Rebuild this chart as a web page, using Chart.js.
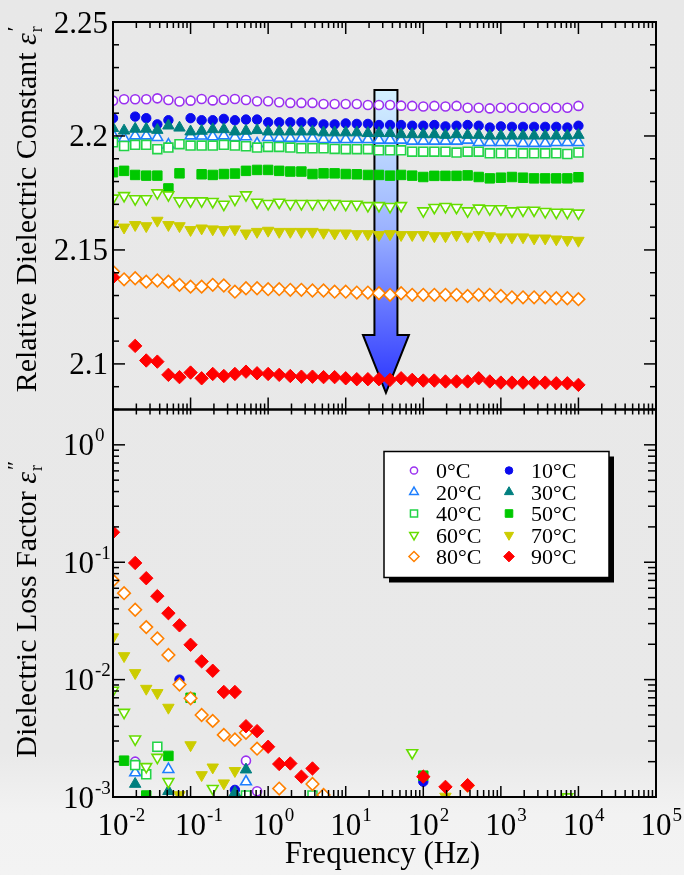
<!DOCTYPE html>
<html>
<head>
<meta charset="utf-8">
<script src="https://cdn.jsdelivr.net/npm/chart.js@4.4.1/dist/chart.umd.min.js"></script>
<style>
  html, body { margin: 0; padding: 0; }
  body {
    width: 684px;
    height: 875px;
    overflow: hidden;
    background: linear-gradient(180deg, #e8e8e8 0%, #e9e9e9 86%, #f2f2f2 93%, #f3f3f3 100%);
  }
</style>
</head>
<body>
<canvas id="dielectricChart" width="684" height="875"></canvas>
<script>
const _ = null;

// measurement frequencies (Hz), 7 points per decade
const freqs = [
  0.01, 0.01389, 0.01931, 0.02683, 0.03728, 0.05179, 0.07197,
  0.1, 0.1389, 0.1931, 0.2683, 0.3728, 0.5179, 0.7197,
  1, 1.389, 1.931, 2.683, 3.728, 5.179, 7.197,
  10, 13.89, 19.31, 26.83, 37.28, 51.79, 71.97,
  100, 138.9, 193.1, 268.3, 372.8, 517.9, 719.7,
  1000, 1389, 1931, 2683, 3728, 5179, 7197, 10000
];

const temps = ['0°C', '10°C', '20°C', '30°C', '40°C', '50°C', '60°C', '70°C', '80°C', '90°C'];

// relative dielectric constant eps_r'
const eps0 = [2.2155, 2.2161, 2.2161, 2.2161, 2.2165, 2.2158, 2.2151, 2.2155, 2.2162, 2.2156, 2.2159, 2.2162, 2.2158, 2.2152,
  2.2152, 2.2148, 2.2145, 2.2145, 2.2145, 2.2140, 2.2140, 2.2140, 2.2140, 2.2136, 2.2136, 2.2136, 2.2133, 2.2132,
  2.2129, 2.2132, 2.2129, 2.2132, 2.2124, 2.2124, 2.2121, 2.2124, 2.2124, 2.2124, 2.2124, 2.2124, 2.2124, 2.2124, 2.2132];
const eps10 = [2.2078, _, 2.2085, 2.2078, 2.2051, 2.2069, _, 2.2078, 2.2069, 2.2069, 2.2075, 2.2069, 2.2072, 2.2072,
  2.2060, 2.2060, 2.2060, 2.2060, 2.2060, 2.2051, 2.2051, 2.2055, 2.2053, 2.2053, 2.2048, 2.2048, 2.2048, 2.2045,
  2.2045, 2.2048, 2.2042, 2.2045, 2.2048, 2.2045, 2.2037, 2.2042, 2.2040, 2.2040, 2.2040, 2.2040, 2.2040, 2.2037, 2.2045];
const eps20 = [2.2004, 2.1990, 2.2001, 2.2001, 2.1994, 2.1961, _, 2.2001, 2.2000, 2.1997, 2.2001, 2.1994, 2.1997, 2.1966,
  2.1994, 2.1990, 2.1990, 2.1990, 2.1990, 2.1985, 2.1985, 2.1985, 2.1985, 2.1985, 2.1982, 2.1982, 2.1982, 2.1978,
  2.1978, 2.1978, 2.1978, 2.1978, 2.1982, 2.1972, 2.1972, 2.1972, 2.1972, 2.1968, 2.1968, 2.1968, 2.1972, 2.1972, 2.1972];
const eps30 = [2.2034, 2.2023, 2.2031, 2.2031, 2.2026, 2.2045, 2.2036, 2.2019, 2.2022, 2.2029, 2.2029, 2.2019, 2.2022, 2.2025,
  2.2019, 2.2019, 2.2019, 2.2019, 2.2019, 2.2015, 2.2015, 2.2015, 2.2015, 2.2012, 2.2012, 2.2012, 2.2007, 2.2007,
  2.2007, 2.2007, 2.2004, 2.2007, 2.2004, 2.2004, 2.2001, 2.2001, 2.2001, 2.2001, 2.2001, 2.2001, 2.2001, 2.2001, 2.2004];
const eps40 = [2.1972, 2.1956, 2.1961, 2.1961, 2.1942, 2.1949, 2.1964, 2.1958, 2.1958, 2.1958, 2.1961, 2.1958, 2.1955, 2.1949,
  2.1952, 2.1952, 2.1949, 2.1946, 2.1946, 2.1946, 2.1943, 2.1942, 2.1942, 2.1942, 2.1937, 2.1937, 2.1937, 2.1931,
  2.1931, 2.1931, 2.1931, 2.1927, 2.1931, 2.1931, 2.1924, 2.1924, 2.1924, 2.1924, 2.1924, 2.1924, 2.1924, 2.1921, 2.1927];
const eps50 = [2.1841, 2.1847, 2.1829, 2.1826, 2.1826, 2.1770, 2.1836, _, 2.1832, 2.1829, 2.1833, 2.1835, 2.1847, 2.1851,
  2.1851, 2.1847, 2.1844, 2.1844, 2.1833, 2.1836, 2.1836, 2.1833, 2.1832, 2.1829, 2.1829, 2.1826, 2.1829, 2.1826,
  2.1820, 2.1825, 2.1825, 2.1825, 2.1827, 2.1820, 2.1814, 2.1817, 2.1820, 2.1817, 2.1814, 2.1814, 2.1814, 2.1814, 2.1819];
const eps60 = [2.1727, 2.1738, 2.1724, 2.1724, 2.1750, 2.1741, 2.1715, 2.1715, 2.1715, 2.1712, 2.1700, 2.1722, 2.1741, 2.1709,
  2.1703, 2.1709, 2.1703, 2.1703, 2.1703, 2.1703, 2.1703, 2.1700, 2.1700, 2.1694, 2.1694, 2.1690, 2.1694, _,
  2.1671, 2.1686, 2.1690, 2.1686, 2.1671, 2.1683, 2.1680, 2.1680, 2.1671, 2.1674, 2.1674, 2.1668, 2.1665, 2.1665, 2.1661];
const eps70 = [2.1614, 2.1599, 2.1610, 2.1605, 2.1629, 2.1610, 2.1605, 2.1588, 2.1595, 2.1591, 2.1588, 2.1591, 2.1573, 2.1580,
  2.1585, 2.1580, 2.1580, 2.1580, 2.1580, 2.1576, 2.1573, 2.1573, 2.1570, 2.1570, 2.1566, 2.1570, 2.1566, 2.1566,
  2.1566, 2.1561, 2.1561, 2.1566, 2.1559, 2.1566, 2.1561, 2.1556, 2.1556, 2.1556, 2.1551, 2.1551, 2.1547, 2.1544, 2.1541];
const eps80 = [2.1405, 2.1371, 2.1376, 2.1361, 2.1366, 2.1361, 2.1347, 2.1339, 2.1339, 2.1347, 2.1344, 2.1317, 2.1332, 2.1332,
  2.1328, 2.1328, 2.1325, 2.1325, 2.1322, 2.1322, 2.1317, 2.1317, 2.1313, 2.1313, 2.1310, 2.1303, 2.1310, 2.1303,
  2.1303, 2.1303, 2.1303, 2.1303, 2.1298, 2.1303, 2.1303, 2.1298, 2.1292, 2.1292, 2.1292, 2.1292, 2.1288, 2.1288, 2.1284];
const eps90 = [2.1380, _, 2.1079, 2.1015, 2.1010, 2.0952, 2.0942, 2.0962, 2.0937, 2.0956, 2.0947, 2.0956, 2.0966, 2.0959,
  2.0956, 2.0952, 2.0947, 2.0944, 2.0944, 2.0942, 2.0942, 2.0937, 2.0933, 2.0933, 2.0933, 2.0930, 2.0937, 2.0930,
  2.0927, 2.0927, 2.0923, 2.0923, 2.0923, 2.0937, 2.0923, 2.0918, 2.0918, 2.0918, 2.0918, 2.0918, 2.0915, 2.0915, 2.0908];

// dielectric loss factor eps_r'' (gaps = below 1e-3, not shown)
const loss0 = [
  _, _, 0.0020, _, _, _, _,
  _, _, _, _, _, 0.00204, 0.00112,
  _, _, _, _, _, _, _,
  _, _, _, _, _, _, _,
  _, _, _, _, _, _, _,
  _, _, _, _, _, _, _, _];
const loss10 = [
  _, _, _, _, _, _, 0.0100,
  _, _, _, _, 0.00115, _, _,
  _, _, _, _, _, _, _,
  _, _, _, _, _, _, _,
  0.00135, _, _, _, _, _, _,
  _, _, _, _, _, _, _, _];
const loss20 = [
  _, _, 0.00161, _, _, 0.00172, _,
  _, _, _, _, _, 0.00135, _,
  _, _, _, _, _, _, _,
  _, _, _, _, _, _, _,
  _, _, _, _, _, _, _,
  _, _, _, _, _, _, _, _];
const loss30 = [
  _, _, 0.00129, _, _, 0.00112, _,
  _, _, _, _, 0.00109, 0.00171, _,
  _, _, _, _, _, _, _,
  _, _, _, _, _, _, _,
  _, _, _, _, _, _, _,
  _, _, _, _, _, _, _, _];
const loss40 = [
  _, _, 0.00187, 0.00156, 0.00268, _, _,
  _, _, _, _, _, 0.00103, _,
  _, _, _, _, 0.00103, _, _,
  _, _, _, _, _, _, _,
  _, _, _, _, _, _, _,
  _, _, _, _, _, _, _, _];
const loss50 = [
  _, 0.00204, _, 0.00103, _, 0.00224, _,
  0.0070, _, _, _, _, _, _,
  _, _, _, _, _, _, _,
  _, _, _, _, _, _, _,
  0.00152, _, _, _, _, _, _,
  _, _, _, _, _, _, _, _];
const loss60 = [
  0.00811, 0.00525, 0.00311, 0.00181, 0.00217, 0.00135, _,
  _, _, 0.00118, _, _, _, _,
  _, _, _, _, _, _, _,
  _, _, _, _, _, _, 0.00238,
  _, _, _, _, _, _, _,
  _, _, _, _, _, _, 0.00100, _];
const loss70 = [
  0.0230, 0.0159, 0.0114, 0.00838, 0.00771, 0.00578, 0.00104,
  0.00277, 0.00154, 0.00179, 0.00131, 0.00167, _, _,
  _, _, _, _, _, _, _,
  _, _, _, _, _, _, _,
  _, _, 0.00101, _, _, _, _,
  _, _, _, _, _, _, _, _];
const loss80 = [
  0.0698, 0.0545, 0.0394, 0.0280, 0.0224, 0.0162, 0.00908,
  0.00693, 0.00500, 0.00445, 0.00338, 0.00309, 0.00352, 0.00258,
  _, 0.00118, _, _, 0.00129, 0.00104, _,
  _, _, _, _, _, _, _,
  _, _, _, _, 0.00125, _, _,
  _, _, _, _, _, _, _, _];
const loss90 = [
  0.180, _, 0.0986, 0.0731, 0.0514, 0.0368, 0.0290,
  0.0198, 0.0143, 0.0119, 0.00785, 0.00785, 0.00401, 0.00364,
  0.00268, 0.00191, 0.00193, 0.00149, 0.00175, _, _,
  _, _, _, _, _, _, _,
  0.00149, _, 0.00122, _, 0.00126, _, _,
  _, _, _, _, _, _, _, _];

const epsSeries = [eps0, eps10, eps20, eps30, eps40, eps50, eps60, eps70, eps80, eps90];
const lossSeries = [loss0, loss10, loss20, loss30, loss40, loss50, loss60, loss70, loss80, loss90];

// axis ticks
const xTickExps = [-2, -1, 0, 1, 2, 3, 4, 5];
const epsTicks = [2.1, 2.15, 2.2, 2.25];
const epsTickLabels = ['2.1', '2.15', '2.2', '2.25'];
const lossTickExps = [0, -1, -2, -3];

// marker look per temperature
const colors = ['#9a30f0', '#0a0aee', '#1e7fff', '#007f7f', '#22d447', '#00c800', '#66dd00', '#cccc00', '#ff8000', '#ff0000'];
const markers = [
  { style: 'circle', rot: 0, open: true, r: 4.5 },
  { style: 'circle', rot: 0, open: false, r: 4.7 },
  { style: 'triangle', rot: 0, open: true, r: 6.2 },
  { style: 'triangle', rot: 0, open: false, r: 6.6 },
  { style: 'rect', rot: 0, open: true, r: 6.3 },
  { style: 'rect', rot: 0, open: false, r: 6.7 },
  { style: 'triangle', rot: 180, open: true, r: 6.2 },
  { style: 'triangle', rot: 180, open: false, r: 6.6 },
  { style: 'rectRot', rot: 0, open: true, r: 6.3 },
  { style: 'rectRot', rot: 0, open: false, r: 6.7 }
];

// arrow annotation (data coords)
const arrowMark = { freq: 33, from: 2.2202, headAt: 2.1127, to: 2.0873 };

const SERIF = '"Liberation Serif", "Times New Roman", serif';

function makeDataset(i, values, axisId) {
  const m = markers[i];
  return {
    label: temps[i],
    data: freqs.map((f, k) => ({ x: f, y: values[k] })),
    yAxisID: axisId,
    showLine: false,
    pointStyle: m.style,
    pointRotation: m.rot,
    pointRadius: m.r,
    pointHoverRadius: m.r,
    pointBorderWidth: m.open ? 1.6 : 1,
    pointBorderColor: colors[i],
    pointBackgroundColor: m.open ? '#ffffff' : colors[i]
  };
}

// higher temperatures drawn on top
const datasets = [];
for (let i = temps.length - 1; i >= 0; i--) {
  datasets.push(makeDataset(i, epsSeries[i], 'yEps'));
  datasets.push(makeDataset(i, lossSeries[i], 'yLoss'));
}

function line(ctx, x1, y1, x2, y2) {
  ctx.beginPath();
  ctx.moveTo(x1, y1);
  ctx.lineTo(x2, y2);
  ctx.stroke();
}

function logTicks(e0, e1, maxV) {
  const out = [];
  for (let e = e0; e <= e1; e++) {
    for (let m = 1; m <= 9; m++) {
      const v = m * Math.pow(10, e);
      if (v > maxV * 1.0001) break;
      out.push({ v, major: m === 1 });
    }
  }
  return out;
}

function drawPow(ctx, exp, x, baseline, align) {
  const base = '10';
  const sup = String(exp);
  ctx.font = '31px ' + SERIF;
  const wb = ctx.measureText(base).width;
  let left = x;
  if (align === 'center') left = x - wb / 2;
  ctx.fillText(base, left, baseline);
  ctx.font = '19px ' + SERIF;
  ctx.fillText(sup, left + wb + 1, baseline - 14);
}

function drawRotTitle(ctx, main, primes, cx, cy) {
  ctx.save();
  ctx.translate(cx, cy);
  ctx.rotate(-Math.PI / 2);
  ctx.textBaseline = 'alphabetic';
  ctx.textAlign = 'left';
  ctx.font = '30px ' + SERIF;
  const wMain = ctx.measureText(main).width;
  ctx.font = 'italic 30px ' + SERIF;
  const wEps = ctx.measureText('ε').width;
  ctx.font = '18px ' + SERIF;
  const wR = ctx.measureText('r').width;
  ctx.font = '22px ' + SERIF;
  const wP = ctx.measureText(primes).width;
  const total = wMain + wEps + Math.max(wR, wP) + 2;
  let x = -total / 2;
  ctx.fillStyle = '#000';
  ctx.font = '30px ' + SERIF;
  ctx.fillText(main, x, 0);
  x += wMain;
  ctx.font = 'italic 30px ' + SERIF;
  ctx.fillText('ε', x, 0);
  x += wEps;
  ctx.font = '18px ' + SERIF;
  ctx.fillText('r', x + 1, 6);
  ctx.font = '22px ' + SERIF;
  ctx.fillText(primes, x + 2, -14);
  ctx.restore();
}

function drawArrow(chart) {
  const ctx = chart.ctx;
  const xs = chart.scales.x, ys = chart.scales.yEps;
  const cx = xs.getPixelForValue(arrowMark.freq);
  const top = ys.getPixelForValue(arrowMark.from);
  const neck = ys.getPixelForValue(arrowMark.headAt);
  const tip = ys.getPixelForValue(arrowMark.to);
  const shaft = 11.5, head = 23;
  const g = ctx.createLinearGradient(0, top, 0, tip);
  g.addColorStop(0, '#d4f2ff');
  g.addColorStop(0.45, '#9db4ff');
  g.addColorStop(1, '#2a34ff');
  ctx.save();
  ctx.beginPath();
  ctx.moveTo(cx - shaft, top);
  ctx.lineTo(cx + shaft, top);
  ctx.lineTo(cx + shaft, neck);
  ctx.lineTo(cx + head, neck);
  ctx.lineTo(cx, tip);
  ctx.lineTo(cx - head, neck);
  ctx.lineTo(cx - shaft, neck);
  ctx.closePath();
  ctx.fillStyle = g;
  ctx.fill();
  ctx.lineWidth = 2;
  ctx.strokeStyle = '#000';
  ctx.lineJoin = 'miter';
  ctx.stroke();
  ctx.restore();
}

function drawLegend(chart) {
  const ctx = chart.ctx;
  const area = chart.chartArea;
  const bx = area.left + 271, by = chart.scales.yLoss.top + 42, bw = 225, bh = 126;
  ctx.save();
  ctx.fillStyle = '#000';
  ctx.fillRect(bx + 5, by + 5, bw, bh);
  ctx.fillStyle = '#fff';
  ctx.fillRect(bx, by, bw, bh);
  ctx.lineWidth = 1.5;
  ctx.strokeStyle = '#000';
  ctx.strokeRect(bx, by, bw, bh);
  ctx.font = '22px ' + SERIF;
  ctx.textBaseline = 'alphabetic';
  ctx.textAlign = 'left';
  for (let i = 0; i < temps.length; i++) {
    const col = i % 2, row = Math.floor(i / 2);
    const mx = bx + 30 + col * 95;
    const my = by + 19 + row * 21.5;
    const m = markers[i];
    ctx.fillStyle = m.open ? '#ffffff' : colors[i];
    ctx.strokeStyle = colors[i];
    ctx.lineWidth = m.open ? 1.5 : 1;
    Chart.helpers.drawPoint(ctx, { pointStyle: m.style, rotation: m.rot, radius: m.r * 0.8, borderWidth: 1 }, mx, my);
    ctx.fillStyle = '#000';
    ctx.fillText(temps[i], mx + 22, my + 7.5);
  }
  ctx.restore();
}

function drawAxes(chart) {
  const ctx = chart.ctx;
  const xs = chart.scales.x, yE = chart.scales.yEps, yL = chart.scales.yLoss;
  const L = xs.left, R = xs.right;
  ctx.save();
  ctx.strokeStyle = '#000';
  ctx.fillStyle = '#000';
  ctx.lineWidth = 2;
  ctx.strokeRect(L, yE.top, R - L, yE.bottom - yE.top);
  ctx.strokeRect(L, yL.top, R - L, yL.bottom - yL.top);

  ctx.lineWidth = 1.5;
  // frequency ticks on every horizontal border
  for (const t of logTicks(-2, 5, 1e5)) {
    const px = xs.getPixelForValue(t.v);
    line(ctx, px, yE.top, px, yE.top + (t.major ? 12 : 6));
    line(ctx, px, yE.bottom, px, yE.bottom - (t.major ? 12 : 6));
    line(ctx, px, yL.top, px, yL.top + 5);
    line(ctx, px, yL.bottom, px, yL.bottom - (t.major ? 11 : 7));
  }
  // linear ticks, top panel
  for (let k = 208; k <= 225; k++) {
    const py = yE.getPixelForValue(k / 100);
    const len = k % 5 === 0 ? 12 : 6;
    line(ctx, L, py, L + len, py);
    line(ctx, R, py, R - len, py);
  }
  // log ticks, bottom panel
  for (const t of logTicks(-3, 0, 1.999)) {
    const py = yL.getPixelForValue(t.v);
    line(ctx, L, py, L + (t.major ? 12 : 6), py);
    line(ctx, R, py, R - (t.major ? 12 : 8), py);
  }

  // tick labels
  ctx.textBaseline = 'alphabetic';
  ctx.font = '31px ' + SERIF;
  ctx.textAlign = 'right';
  epsTicks.forEach((v, i) => {
    ctx.fillText(epsTickLabels[i], L - 5, yE.getPixelForValue(v) + 10.5);
  });
  ctx.textAlign = 'left';
  lossTickExps.forEach(e => {
    drawPow(ctx, e, 63, yL.getPixelForValue(Math.pow(10, e)) + 10.5, 'left');
  });
  xTickExps.forEach(e => {
    drawPow(ctx, e, xs.getPixelForValue(Math.pow(10, e)), yL.bottom + 38, 'center');
  });

  // axis titles
  ctx.font = '31px ' + SERIF;
  ctx.textAlign = 'center';
  ctx.fillText('Frequency (Hz)', (L + R) / 2 - 2, yL.bottom + 66);
  drawRotTitle(ctx, 'Relative Dielectric Constant ', '′', 36, (yE.top + yE.bottom) / 2 - 7);
  drawRotTitle(ctx, 'Dielectric Loss Factor ', '″', 36, (yL.top + yL.bottom) / 2 + 6);
  ctx.restore();
}

const decorPlugin = {
  id: 'decor',
  beforeDatasetsDraw(chart) { drawArrow(chart); },
  afterDatasetsDraw(chart) {
    drawAxes(chart);
    drawLegend(chart);
  }
};

const hiddenX = {
  ticks: { display: false }, grid: { display: false }, border: { display: false },
  afterFit: s => { s.height = 0; }
};
const hiddenY = {
  ticks: { display: false }, grid: { display: false }, border: { display: false },
  afterFit: s => { s.width = 0; }
};

new Chart(document.getElementById('dielectricChart').getContext('2d'), {
  type: 'scatter',
  data: { datasets },
  options: {
    responsive: false,
    animation: false,
    devicePixelRatio: 1,
    layout: { padding: { left: 113, right: 28, top: 22, bottom: 78 } },
    plugins: { legend: { display: false }, tooltip: { enabled: false } },
    scales: {
      x: { type: 'logarithmic', min: 0.01, max: 1e5, position: 'bottom', ...hiddenX },
      yLoss: { type: 'logarithmic', min: 0.001, max: 2, position: 'left', stack: 'panels', stackWeight: 1, ...hiddenY },
      yEps: { type: 'linear', min: 2.08, max: 2.25, position: 'left', stack: 'panels', stackWeight: 1, ...hiddenY }
    }
  },
  plugins: [decorPlugin]
});
</script>
</body>
</html>
